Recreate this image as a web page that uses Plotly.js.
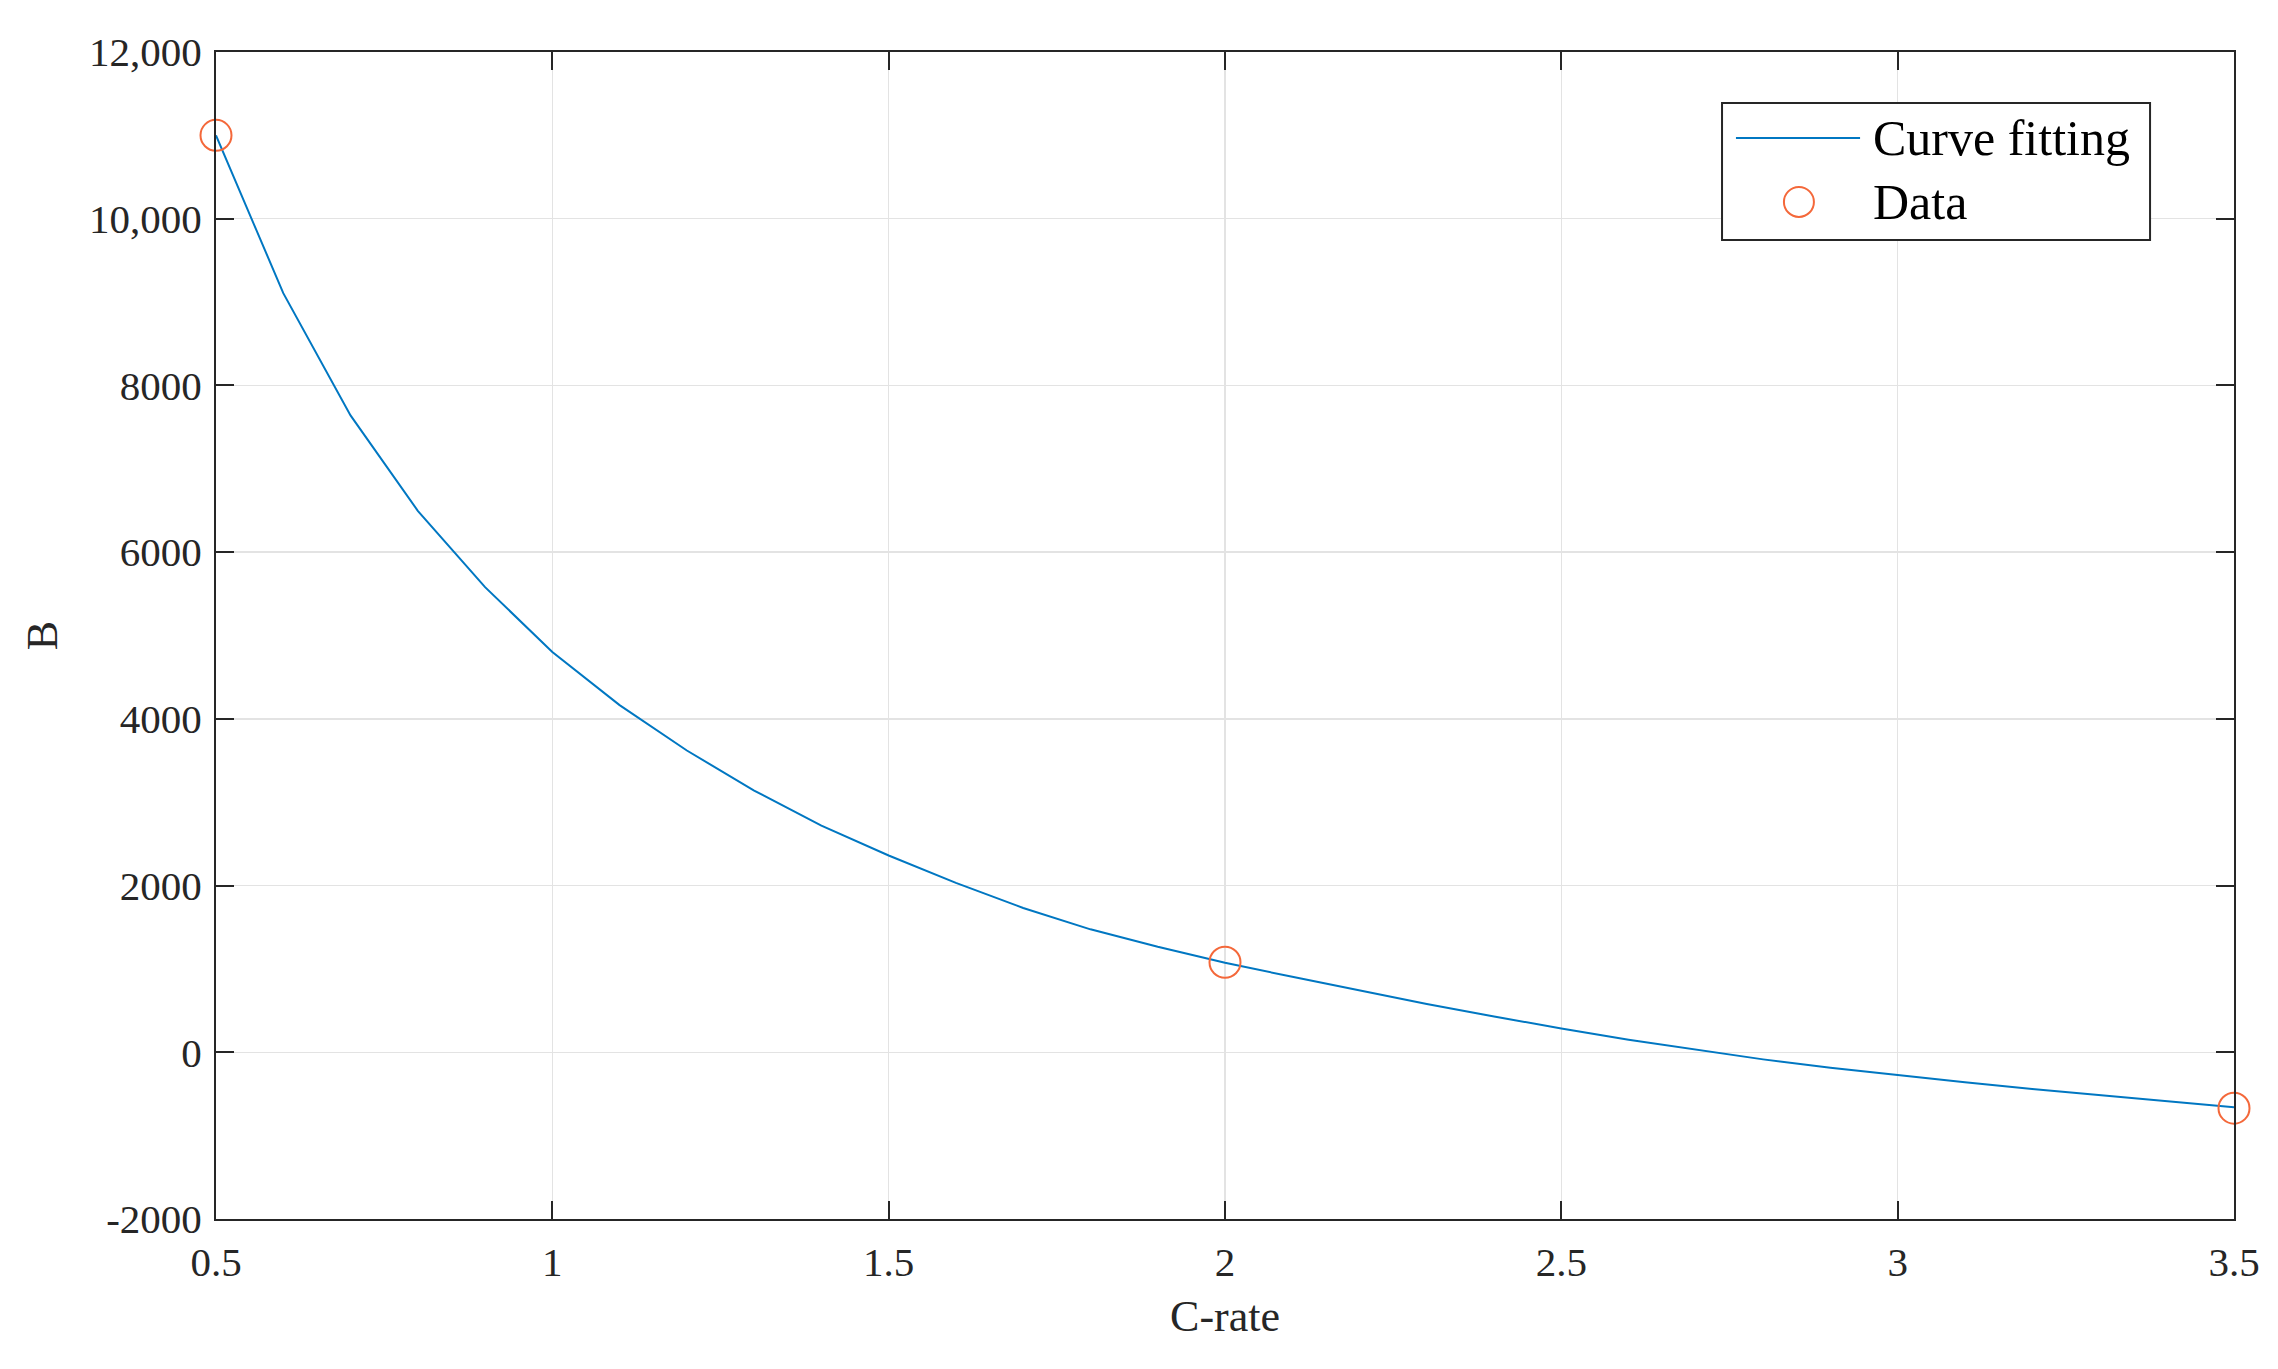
<!DOCTYPE html>
<html>
<head>
<meta charset="utf-8">
<script src="https://cdn.plot.ly/plotly-3.0.1.min.js"></script>
<style>
  html, body { margin: 0; padding: 0; background: #fff; }
  #chart { width: 2278px; height: 1369px; }
</style>
</head>
<body>
<div id="chart"></div>
<script>
// fitted curve
var fitX = [0.5, 0.6, 0.7, 0.8, 0.9, 1.0, 1.1, 1.2, 1.3, 1.4, 1.5, 1.6, 1.7, 1.8, 1.9, 2.0,
            2.1, 2.2, 2.3, 2.4, 2.5, 2.6, 2.7, 2.8, 2.9, 3.0, 3.1, 3.2, 3.3, 3.4, 3.5];
var fitY = [11000, 9107, 7640, 6496, 5580, 4802, 4165, 3620, 3140, 2720, 2361, 2032, 1731, 1475, 1265, 1075,
            905, 740, 580, 430, 285, 150, 30, -85, -185, -275, -360, -440, -515, -590, -660];

// measured points
var dataX = [0.5, 2, 3.5];
var dataY = [11000, 1080, -670];

var yTickVals = [-2000, 0, 2000, 4000, 6000, 8000, 10000, 12000];
var yTickText = ['-2000', '0', '2000', '4000', '6000', '8000', '10,000', '12,000'];
var xTickVals = [0.5, 1, 1.5, 2, 2.5, 3, 3.5];
var xTickText = ['0.5', '1', '1.5', '2', '2.5', '3', '3.5'];

var serif = '"Liberation Serif", "Times New Roman", serif';
var axisCol = '#262626';
var lineCol = '#0077C2';
var dotCol = '#F4683A';

var curve = {
  x: fitX,
  y: fitY,
  type: 'scatter',
  mode: 'lines',
  name: 'Curve fitting',
  line: {color: lineCol, width: 2}
};
var points = {
  x: dataX,
  y: dataY,
  type: 'scatter',
  mode: 'markers',
  name: 'Data',
  cliponaxis: false,
  marker: {symbol: 'circle-open', size: 31, color: dotCol, line: {width: 2, color: dotCol}}
};

// matlab-style legend box (plotly caps legend marker size, so drawn by hand)
var legX0 = 0.7463, legX1 = 0.9584, legY0 = 0.8389, legY1 = 0.9563;
var row1 = 0.9263, row2 = 0.8715;
var legShapes = [
  {type: 'rect', xref: 'paper', yref: 'paper', x0: legX0, x1: legX1, y0: legY0, y1: legY1,
   line: {color: axisCol, width: 2}, fillcolor: '#fff', layer: 'above'},
  {type: 'line', xref: 'paper', yref: 'paper', x0: 0.7532, x1: 0.8147, y0: row1, y1: row1,
   line: {color: lineCol, width: 2}, layer: 'above'},
  {type: 'circle', xref: 'paper', yref: 'paper', xsizemode: 'pixel', ysizemode: 'pixel',
   xanchor: 0.7844, yanchor: row2, x0: -15, x1: 15, y0: -15, y1: 15,
   line: {color: dotCol, width: 2}, layer: 'above'}
];
var legText = [
  {xref: 'paper', yref: 'paper', x: 0.8201, y: row1, xanchor: 'left', yanchor: 'middle',
   text: curve.name, showarrow: false, font: {family: serif, size: 50, color: '#000'}},
  {xref: 'paper', yref: 'paper', x: 0.8201, y: row2, xanchor: 'left', yanchor: 'middle',
   text: points.name, showarrow: false, font: {family: serif, size: 50, color: '#000'}}
];

var layout = {
  width: 2278,
  height: 1369,
  margin: {l: 216, r: 44, t: 52, b: 150},
  paper_bgcolor: '#fff',
  plot_bgcolor: '#fff',
  font: {family: serif, size: 41, color: axisCol},
  showlegend: false,
  shapes: legShapes,
  annotations: legText,
  xaxis: {
    range: [0.5, 3.5],
    tickvals: xTickVals,
    ticktext: xTickText,
    ticks: 'inside', ticklen: 18, tickwidth: 2, tickcolor: axisCol,
    ticklabelstandoff: 6,
    showline: true, linecolor: axisCol, linewidth: 2, mirror: 'ticks',
    showgrid: true, gridcolor: '#e3e3e3', gridwidth: 1.5,
    zeroline: false,
    title: {text: 'C-rate', font: {family: serif, size: 44, color: axisCol}, standoff: 16}
  },
  yaxis: {
    range: [-2000, 12000],
    tickvals: yTickVals,
    ticktext: yTickText,
    ticks: 'inside', ticklen: 18, tickwidth: 2, tickcolor: axisCol,
    ticklabelstandoff: 4,
    showline: true, linecolor: axisCol, linewidth: 2, mirror: 'ticks',
    showgrid: true, gridcolor: '#e3e3e3', gridwidth: 1.5,
    zeroline: false,
    title: {text: 'B', font: {family: serif, size: 44, color: axisCol}, standoff: 18}
  }
};

Plotly.newPlot('chart', [curve, points], layout, {displayModeBar: false, staticPlot: true});
</script>
</body>
</html>
